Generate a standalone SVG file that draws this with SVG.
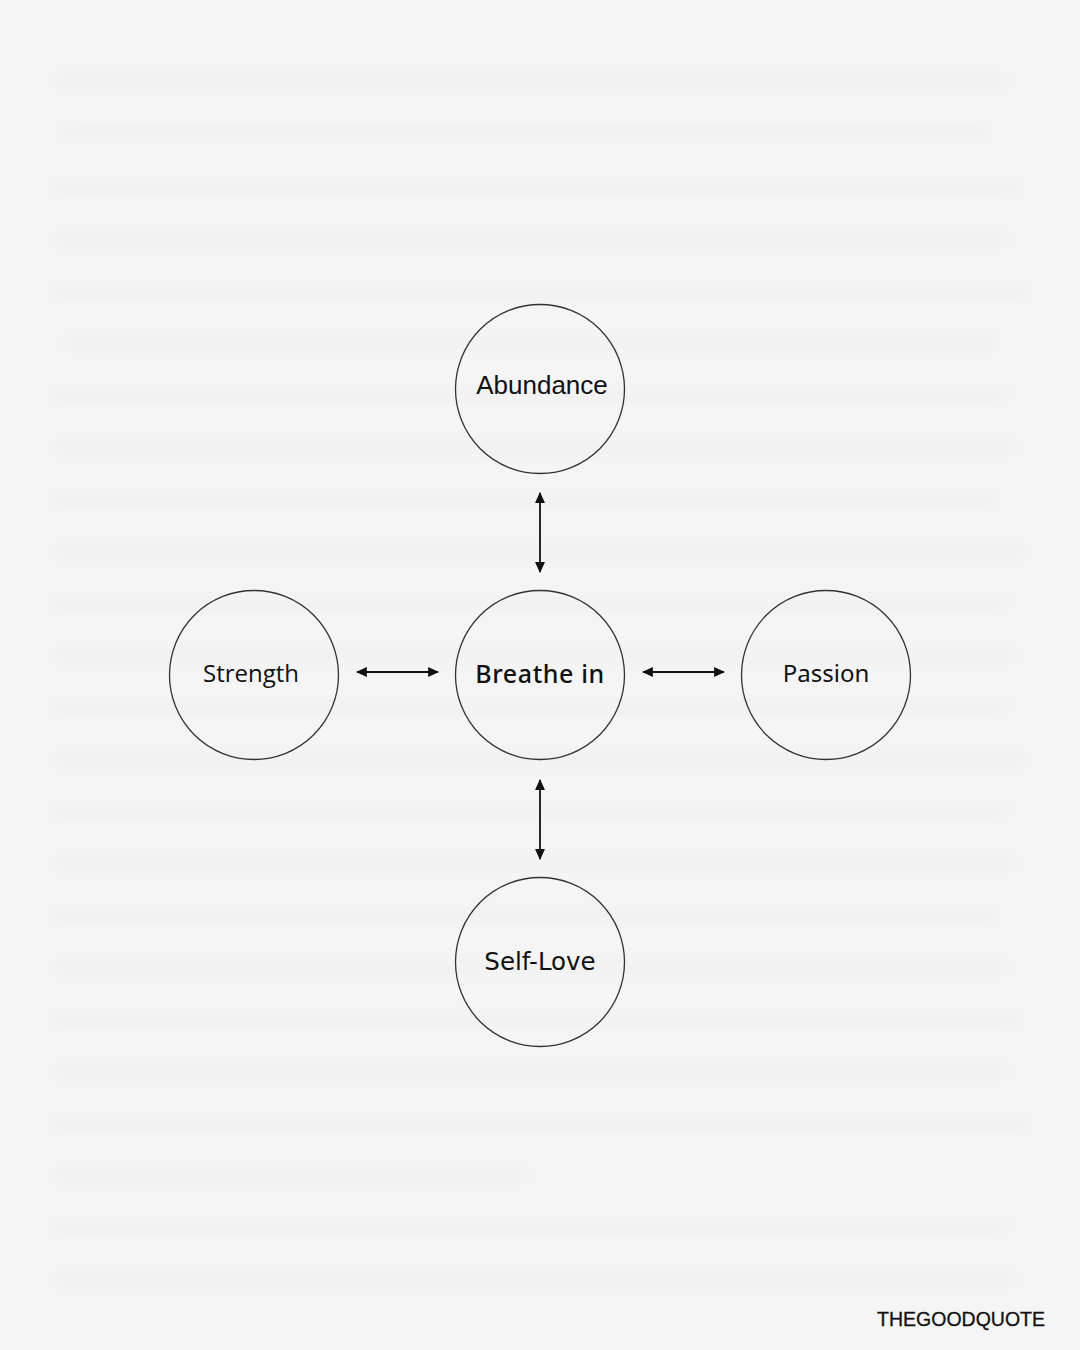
<svg xmlns="http://www.w3.org/2000/svg" width="1080" height="1350" viewBox="0 0 1080 1350">
<defs>
<filter id="blur" x="-5%" y="-100%" width="110%" height="300%"><feGaussianBlur stdDeviation="7"/></filter>
<marker id="ah" viewBox="0 0 10 10" refX="9" refY="5" markerWidth="11" markerHeight="11" markerUnits="userSpaceOnUse" orient="auto-start-reverse"><path d="M0,0.5 L10,5 L0,9.5 z" fill="#111"/></marker>
</defs>
<style>
.node{fill:none;stroke:#333;stroke-width:1.3}
.lbl{fill:#111;text-anchor:middle}
.conn{stroke:#111;stroke-width:1.8;fill:none;marker-start:url(#ah);marker-end:url(#ah)}
.band{fill:#ececec}
</style>
<rect width="1080" height="1350" fill="#f5f5f5"/>
<g id="background-bands" filter="url(#blur)" opacity="0.5">
<rect class="band" x="50" y="74" width="960" height="14"/>
<rect class="band" x="60" y="126" width="930" height="14"/>
<rect class="band" x="50" y="180" width="970" height="14"/>
<rect class="band" x="50" y="232" width="960" height="14"/>
<rect class="band" x="50" y="284" width="980" height="14"/>
<rect class="band" x="60" y="336" width="940" height="14"/>
<rect class="band" x="50" y="388" width="960" height="14"/>
<rect class="band" x="50" y="440" width="970" height="14"/>
<rect class="band" x="50" y="492" width="950" height="14"/>
<rect class="band" x="50" y="544" width="980" height="14"/>
<rect class="band" x="50" y="596" width="960" height="14"/>
<rect class="band" x="50" y="648" width="970" height="14"/>
<rect class="band" x="50" y="700" width="960" height="14"/>
<rect class="band" x="50" y="752" width="980" height="14"/>
<rect class="band" x="50" y="804" width="960" height="14"/>
<rect class="band" x="50" y="856" width="970" height="14"/>
<rect class="band" x="50" y="908" width="950" height="14"/>
<rect class="band" x="50" y="960" width="960" height="14"/>
<rect class="band" x="50" y="1012" width="970" height="14"/>
<rect class="band" x="50" y="1064" width="960" height="14"/>
<rect class="band" x="50" y="1116" width="980" height="14"/>
<rect class="band" x="50" y="1168" width="480" height="14"/>
<rect class="band" x="50" y="1220" width="960" height="14"/>
<rect class="band" x="50" y="1272" width="970" height="14"/>
</g>
<g id="connectors">
<line class="conn" x1="540" y1="493" x2="540" y2="572"/>
<line class="conn" x1="540" y1="780" x2="540" y2="859"/>
<line class="conn" x1="357" y1="672" x2="438" y2="672"/>
<line class="conn" x1="643" y1="672" x2="724" y2="672"/>
</g>
<g id="abundance">
<circle class="node" cx="540" cy="389" r="84.5"/>
<text class="lbl" x="542" y="394" style="font-family:'Liberation Sans',Arial,sans-serif;font-size:26px">Abundance</text>
</g>
<g id="breathe-in">
<circle class="node" cx="540" cy="675" r="84.5"/>
<text class="lbl" x="540" y="683" style="font-family:'Noto Sans',sans-serif;font-weight:500;font-size:25px;letter-spacing:0.6px">Breathe in</text>
</g>
<g id="strength">
<circle class="node" cx="254" cy="675" r="84.5"/>
<text class="lbl" x="251" y="682" style="font-family:'Open Sans',sans-serif;font-size:24px">Strength</text>
</g>
<g id="passion">
<circle class="node" cx="826" cy="675" r="84.5"/>
<text class="lbl" x="826" y="682" style="font-family:'Noto Sans',sans-serif;font-size:24px">Passion</text>
</g>
<g id="self-love">
<circle class="node" cx="540" cy="962" r="84.5"/>
<text class="lbl" x="540" y="970" style="font-family:'DejaVu Sans',sans-serif;font-size:24.5px">Self-Love</text>
</g>
<text x="1045" y="1326" style="font-family:'Liberation Sans',Arial,sans-serif;font-size:19.5px" fill="#111" stroke="#111" stroke-width="0.3" text-anchor="end">THEGOODQUOTE</text>
</svg>
